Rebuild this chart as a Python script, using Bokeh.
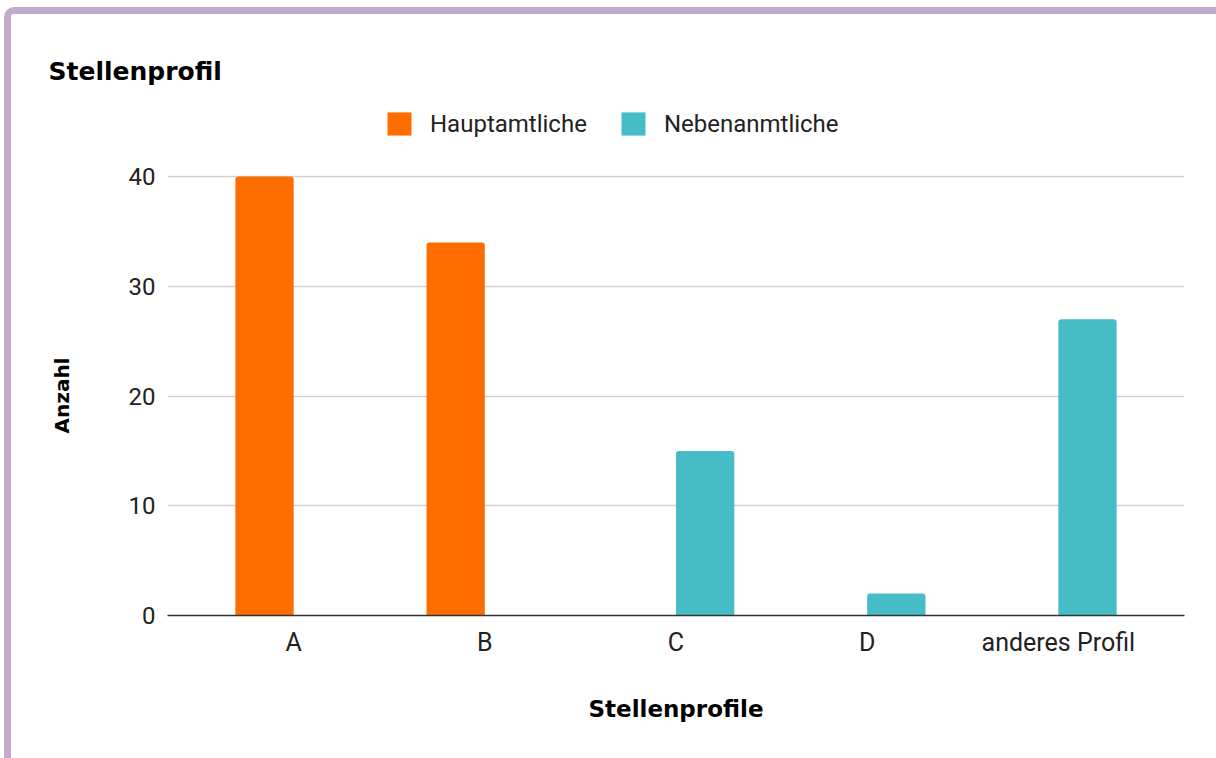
from bokeh.plotting import figure
from bokeh.layouts import column
from bokeh.models import (FactorRange, Range1d, Legend, LegendItem, ColumnDataSource,
                          FixedTicker, Label, Plot)
from bokeh.transform import dodge
from bokeh.embed import file_html
from bokeh.resources import INLINE

# Data
profiles = ["A", "B", "C", "D", "anderes Profil"]
hauptamtliche = [40, 34, 0, 0, 0]
nebenamtliche = [0, 0, 15, 2, 27]
series_names = ["Hauptamtliche", "Nebenanmtliche"]
y_ticks = [0, 10, 20, 30, 40]

ORANGE = "#ff6d01"
TEAL = "#46bdc6"
TICK_FONT = "Roboto"
BOLD_FONT = "DejaVu Sans"
W = 1205
HEAD_H = 140
MAIN_H = 604

source = ColumnDataSource(dict(profile=profiles, haupt=hauptamtliche, neben=nebenamtliche))

# ---- header: chart title and legend -------------------------------------
# The header's frame spans the whole header when it may opt out of frame alignment.
free_frame = "frame_align" in Plot.properties()

if free_frame:
    head = figure(
        width=W, height=HEAD_H,
        x_range=Range1d(0, W), y_range=Range1d(0, HEAD_H),
        x_axis_type=None, y_axis_type=None,
        min_border_top=0, min_border_bottom=0, min_border_left=0, min_border_right=0,
        output_backend="svg", toolbar_location=None,
    )
    head.frame_align = False
    head.add_layout(Label(
        x=37, y=83, text="Stellenprofil", text_align="left", text_baseline="alphabetic",
        text_font=BOLD_FONT, text_font_size="25px", text_font_style="bold",
        text_color="#000000",
    ))
    legend_loc = (373, 16)
else:
    head = figure(
        width=W, height=HEAD_H,
        x_range=Range1d(0, 1), y_range=Range1d(0, 1),
        x_axis_type=None, y_axis_type=None,
        min_border_top=0, min_border_bottom=0, min_border_left=156, min_border_right=32,
        output_backend="svg", toolbar_location=None,
        title="Stellenprofil",
    )
    head.title.text_font = BOLD_FONT
    head.title.text_font_size = "25px"
    head.title.text_font_style = "bold"
    head.title.text_color = "#000000"
    head.title.offset = -119
    head.title.standoff = 61
    legend_loc = (217, 16)

head.outline_line_color = None
head.grid.grid_line_color = None

# hidden series renderers that supply the legend keys
k1 = head.vbar(x="haupt", top="haupt", width=1, source=source,
               fill_color=ORANGE, line_color=None, visible=False)
k2 = head.vbar(x="neben", top="neben", width=1, source=source,
               fill_color=TEAL, line_color=None, visible=False)
legend = Legend(
    items=[LegendItem(label=series_names[0], renderers=[k1]),
           LegendItem(label=series_names[1], renderers=[k2])],
    orientation="horizontal", location=legend_loc,
    glyph_width=30, glyph_height=29, label_standoff=16, spacing=31,
    padding=0, margin=0, border_line_color=None, background_fill_alpha=0,
    inactive_fill_alpha=0,
    label_text_font=TICK_FONT, label_text_font_size="24px", label_text_color="#222222",
    label_height=29,
)
head.add_layout(legend)

# ---- main chart ----------------------------------------------------------
p = figure(
    x_range=FactorRange(*profiles, range_padding=0.16, range_padding_units="absolute"),
    y_range=Range1d(0, 40.1),
    width=W, height=MAIN_H,
    min_border_left=156, min_border_right=32, min_border_top=21, min_border_bottom=143,
    output_backend="svg", toolbar_location=None,
)

bar_w = 0.305
p.vbar(x=dodge("profile", -bar_w / 2, range=p.x_range), top="haupt", width=bar_w,
       source=source, fill_color=ORANGE, line_color=None, border_radius=(3, 3, 0, 0))
p.vbar(x=dodge("profile", bar_w / 2, range=p.x_range), top="neben", width=bar_w,
       source=source, fill_color=TEAL, line_color=None, border_radius=(3, 3, 0, 0))

p.outline_line_color = None
p.xgrid.grid_line_color = None
p.ygrid.grid_line_color = "#d0d0d0"
p.ygrid.grid_line_width = 1.5

p.yaxis.ticker = FixedTicker(ticks=y_ticks)
p.yaxis.axis_line_color = None
p.yaxis.major_tick_line_color = None
p.yaxis.minor_tick_line_color = None
p.yaxis.major_label_standoff = 6
p.yaxis.axis_label = "Anzahl"
p.yaxis.axis_label_standoff = 52
p.yaxis.axis_label_text_font_size = "20px"

p.xaxis.axis_line_color = "#333333"
p.xaxis.axis_line_width = 1.5
p.xaxis.major_tick_line_color = None
p.xaxis.major_label_standoff = 6
p.xaxis.axis_label = "Stellenprofile"
p.xaxis.axis_label_standoff = 36
p.xaxis.axis_label_text_font_size = "23px"

for ax in (p.xaxis, p.yaxis):
    ax.major_label_text_font = TICK_FONT
    ax.major_label_text_color = "#222222"
    ax.axis_label_text_font = BOLD_FONT
    ax.axis_label_text_font_style = "bold"
    ax.axis_label_text_color = "#000000"
p.xaxis.major_label_text_font_size = "25px"
p.yaxis.major_label_text_font_size = "24px"

page = column(head, p, spacing=0, styles={
    "margin-left": "4px", "margin-top": "7px",
    "border-left": "7px solid #c3aacb", "border-top": "7px solid #c3aacb",
    "border-top-left-radius": "10px",
})

with open("out.html", "w") as f:
    f.write(file_html(page, INLINE))
